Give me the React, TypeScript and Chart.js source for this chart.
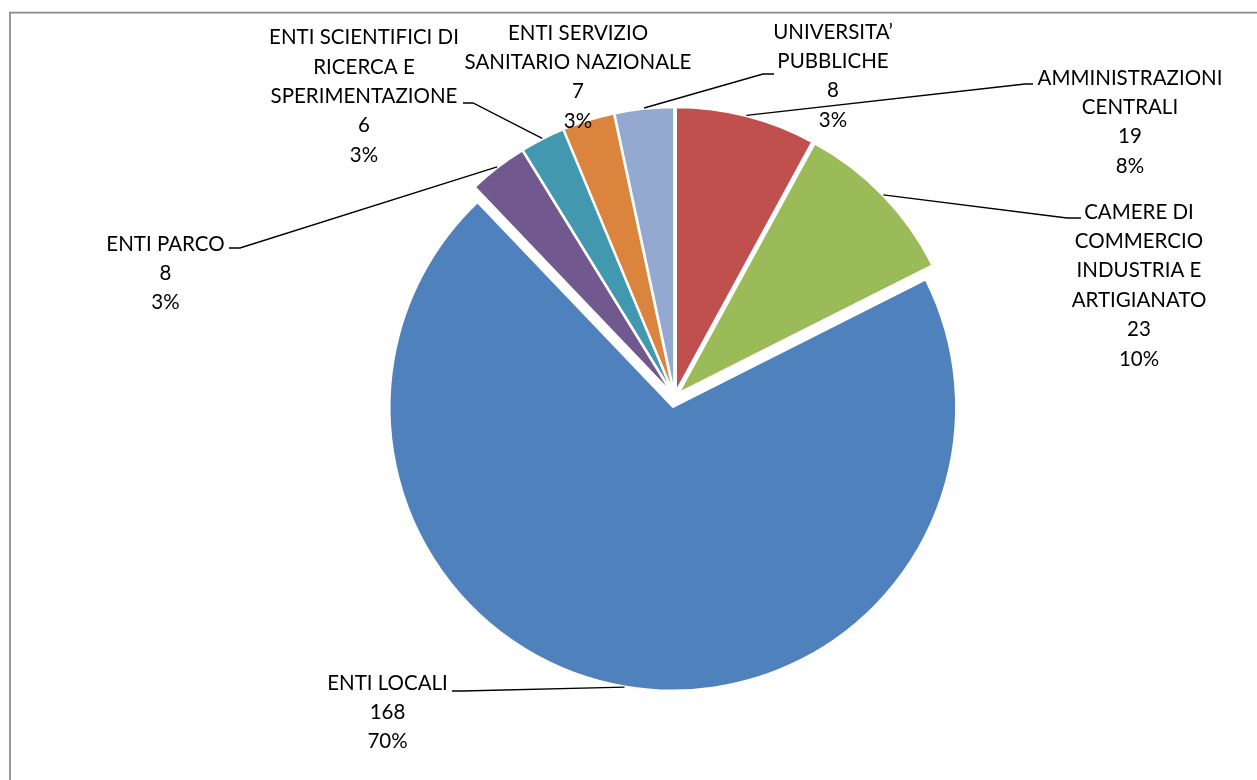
import React, { useEffect, useRef } from "react";
import { Chart, registerables } from "chart.js";

Chart.register(...registerables);

// ---- data ----
const categories = [
  "AMMINISTRAZIONI CENTRALI",
  "CAMERE DI COMMERCIO INDUSTRIA E ARTIGIANATO",
  "ENTI LOCALI",
  "ENTI PARCO",
  "ENTI SCIENTIFICI DI RICERCA E SPERIMENTAZIONE",
  "ENTI SERVIZIO SANITARIO NAZIONALE",
  "UNIVERSITA’ PUBBLICHE",
];
const labelLines = [
  ["AMMINISTRAZIONI", "CENTRALI"],
  ["CAMERE DI", "COMMERCIO", "INDUSTRIA E", "ARTIGIANATO"],
  ["ENTI LOCALI"],
  ["ENTI PARCO"],
  ["ENTI SCIENTIFICI DI", "RICERCA E", "SPERIMENTAZIONE"],
  ["ENTI SERVIZIO", "SANITARIO NAZIONALE"],
  ["UNIVERSITA’", "PUBBLICHE"],
];
const values = [19, 23, 168, 8, 6, 7, 8];
const colors = ["#C0504D", "#9BBB59", "#4F81BD", "#71588F", "#4198AF", "#DB843D", "#93A9CF"];

// ---- layout / style ----
const explode = [6.5, 6.5, 10.5, 6.5, 6.5, 6.5, 6.5];
const PIE_RADIUS = 283;
const FONT = "20.5px Lato";
const LINE_H = 29.4;
type Pt = [number, number];
const labelLayout: { cx: number; y: number; leader: Pt[] | null }[] = [
  { cx: 1130, y: 78, leader: [[1025, 84], [1033, 84]] },
  { cx: 1139, y: 212, leader: [[1067, 218], [1081, 218]] },
  { cx: 387.5, y: 683, leader: [[462, 691], [452, 691]] },
  { cx: 165.5, y: 244, leader: [[240, 248], [229, 248]] },
  { cx: 364, y: 37.5, leader: [[473, 103], [463, 103]] },
  { cx: 578, y: 33, leader: null },
  { cx: 833, y: 32, leader: [[763, 74], [774, 74]] },
];

const explodePlugin = {
  id: "explodeSlices",
  beforeDatasetsDraw(chart: any) {
    const meta = chart.getDatasetMeta(0);
    const ca = chart.chartArea;
    const cx = (ca.left + ca.right) / 2;
    const cy = (ca.top + ca.bottom) / 2;
    meta.data.forEach((arc: any, i: number) => {
      const mid = (arc.startAngle + arc.endAngle) / 2;
      arc.x = cx + Math.cos(mid) * explode[i];
      arc.y = cy + Math.sin(mid) * explode[i];
    });
  },
};

const framePlugin = {
  id: "frame",
  beforeDraw(chart: any) {
    const ctx = chart.ctx;
    ctx.save();
    ctx.fillStyle = "#ffffff";
    ctx.fillRect(0, 0, chart.width, chart.height);
    ctx.strokeStyle = "#8a8a8a";
    ctx.lineWidth = 1.75;
    ctx.beginPath();
    ctx.moveTo(10, chart.height + 5);
    ctx.lineTo(10, 12.5);
    ctx.lineTo(chart.width + 5, 12.5);
    ctx.stroke();
    ctx.restore();
  },
};

const labelPlugin = {
  id: "pieLabels",
  afterDatasetsDraw(chart: any) {
    const ctx = chart.ctx;
    const meta = chart.getDatasetMeta(0);
    const total = values.reduce((a, b) => a + b, 0);
    ctx.save();
    meta.data.forEach((arc: any, i: number) => {
      const lay = labelLayout[i];
      if (lay.leader) {
        const mid = (arc.startAngle + arc.endAngle) / 2;
        const r = arc.outerRadius + 1;
        ctx.strokeStyle = "#000000";
        ctx.lineWidth = 1.4;
        ctx.beginPath();
        ctx.moveTo(arc.x + Math.cos(mid) * r, arc.y + Math.sin(mid) * r);
        lay.leader.forEach((p) => ctx.lineTo(p[0], p[1]));
        ctx.stroke();
      }
      const lines = [
        ...labelLines[i],
        String(values[i]),
        Math.round((values[i] / total) * 100) + "%",
      ];
      ctx.fillStyle = "#000000";
      ctx.font = FONT;
      ctx.textAlign = "center";
      ctx.textBaseline = "middle";
      lines.forEach((t, k) => ctx.fillText(t, lay.cx, lay.y + k * LINE_H));
    });
    ctx.restore();
  },
};

export default function App() {
  const ref = useRef<HTMLCanvasElement | null>(null);
  useEffect(() => {
    if (!ref.current) return;
    const chart = new Chart(ref.current, {
      type: "pie",
      data: {
        labels: categories,
        datasets: [
          {
            data: values,
            backgroundColor: colors,
            borderColor: "#ffffff",
            borderWidth: 1.5,
            hoverOffset: 0,
            radius: PIE_RADIUS,
          } as any,
        ],
      },
      options: {
        responsive: false,
        animation: false,
        events: [],
        radius: PIE_RADIUS,
        layout: { padding: { left: 92.2, right: 0, top: 13.8, bottom: 0 } },
        plugins: {
          legend: { display: false },
          tooltip: { enabled: false },
        },
      } as any,
      plugins: [framePlugin, explodePlugin, labelPlugin],
    });
    return () => chart.destroy();
  }, []);
  return (
    <div
      style={{
        position: "fixed",
        left: 0,
        top: 0,
        width: 1257,
        height: 780,
        overflow: "hidden",
        background: "#ffffff",
      }}
    >
      <canvas ref={ref} width={1257} height={780} style={{ display: "block" }} />
    </div>
  );
}
